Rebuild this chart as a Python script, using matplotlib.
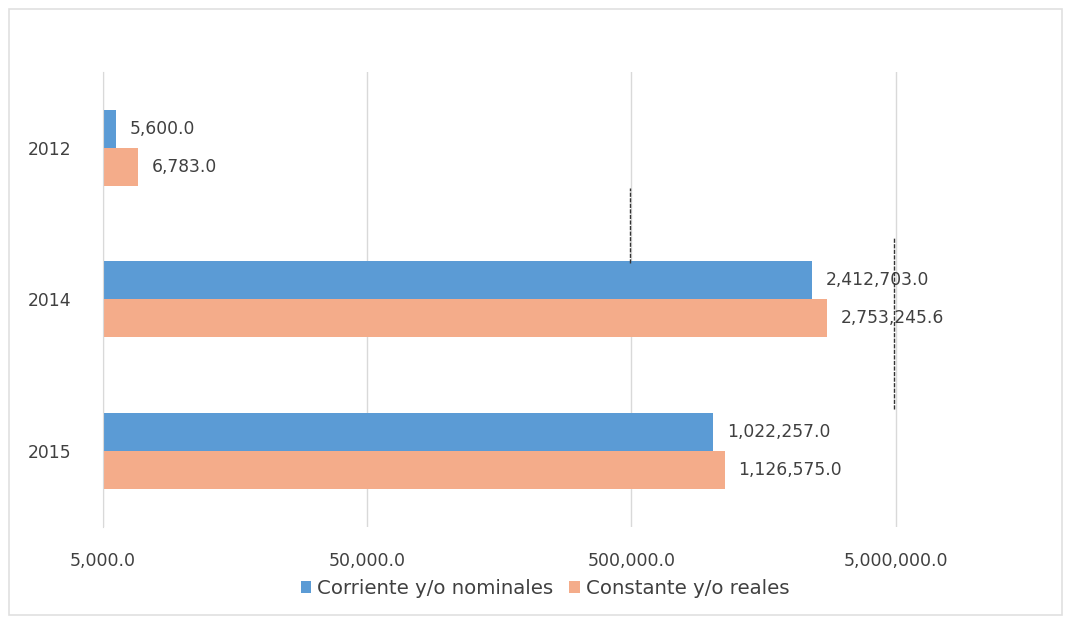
import numpy as np
import matplotlib.pyplot as plt
from matplotlib.patches import Rectangle
from matplotlib.lines import Line2D
from matplotlib.ticker import FixedLocator, FuncFormatter, NullLocator

# data
years = ['2012', '2014', '2015']
corriente = [5600.0, 2412703.0, 1022257.0]
constante = [6783.0, 2753245.6, 1126575.0]
x_ticks = [5000, 50000, 500000, 5000000]

blue = '#5B9BD5'
orange = '#F4AC8A'
txt = '#404040'

fig = plt.figure(figsize=(10.69, 6.25), dpi=100)
ax = fig.add_axes([0.0964, 0.157, 0.877, 0.728])

y = np.arange(len(years))
h = 0.25
ax.barh(y - h / 2, corriente, height=h, left=0, color=blue, label='Corriente y/o nominales')
ax.barh(y + h / 2, constante, height=h, left=0, color=orange, label='Constante y/o reales')

ax.set_xscale('log')
ax.set_xlim(5000, 1.77e7)
ax.set_ylim(len(years) - 0.5, -0.5)

# value labels
for i in range(len(years)):
    ax.annotate(f'{corriente[i]:,.1f}', (corriente[i], y[i] - h / 2), xytext=(10, 0),
                textcoords='offset points', va='center', ha='left', fontsize=12.3, color=txt)
    ax.annotate(f'{constante[i]:,.1f}', (constante[i], y[i] + h / 2), xytext=(10, 0),
                textcoords='offset points', va='center', ha='left', fontsize=12.3, color=txt)

ax.xaxis.set_major_locator(FixedLocator(x_ticks))
ax.xaxis.set_minor_locator(NullLocator())
ax.xaxis.set_major_formatter(FuncFormatter(lambda v, p: f'{v:,.1f}'))
ax.set_yticks(y)
ax.set_yticklabels(years)
ax.tick_params(axis='x', length=0, pad=18, labelsize=12.5, labelcolor=txt)
ax.tick_params(axis='y', length=0, pad=23, labelsize=12.3, labelcolor=txt)

ax.grid(axis='x', color='#D9D9D9', linewidth=1)
ax.set_axisbelow(True)
for s in ['top', 'right', 'bottom']:
    ax.spines[s].set_visible(False)
ax.spines['left'].set_color('#D9D9D9')

leg = fig.legend(loc='center', bbox_to_anchor=(0.51, 0.059), ncol=2, frameon=False,
                 fontsize=14.2, handlelength=0.55, handleheight=0.55, handletextpad=0.3,
                 columnspacing=0.8)
for t in leg.get_texts():
    t.set_color(txt)

# outer chart border and scan marks
fig.add_artist(Rectangle((0.008, 0.016), 0.985, 0.97, transform=fig.transFigure,
                         fill=False, edgecolor='#E0E0E0', linewidth=1.2))
fig.add_artist(Line2D([0.589, 0.589], [0.58, 0.70], transform=fig.transFigure,
                      color='#333333', linewidth=1, linestyle=(0, (3, 1))))
fig.add_artist(Line2D([0.836, 0.836], [0.345, 0.62], transform=fig.transFigure,
                      color='#333333', linewidth=1, linestyle=(0, (3, 1))))

fig.savefig('out.png', dpi=100)
